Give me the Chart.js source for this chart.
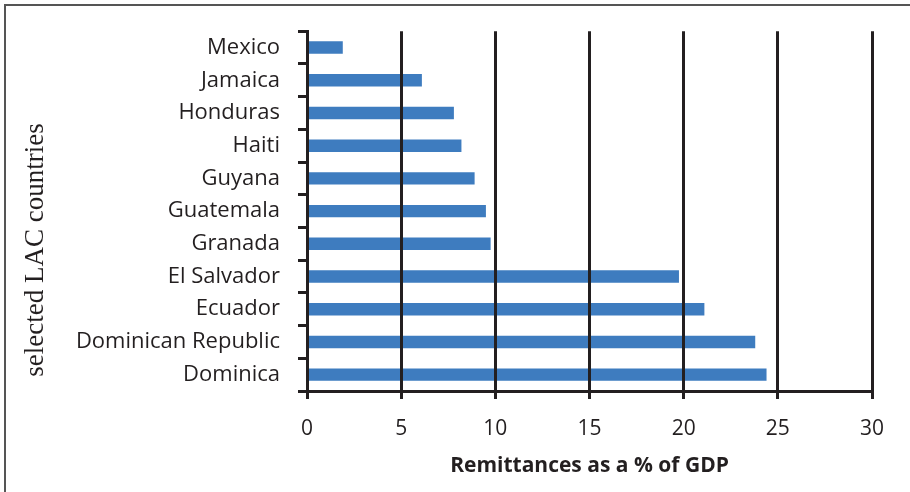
<!DOCTYPE html>
<html>
<head>
<meta charset="utf-8">
<script src="https://cdn.jsdelivr.net/npm/chart.js@4/dist/chart.umd.min.js"></script>
<style>
  body { margin: 0; background: #fff; }
  #wrap { position: relative; width: 910px; height: 492px; overflow: hidden; }
  #wrap::after {
    content: ''; position: absolute; left: 4px; top: 4px; right: -10px; bottom: -10px;
    border-left: 2px solid #555; border-top: 2px solid #555; pointer-events: none;
  }
</style>
</head>
<body>
<div id="wrap"><canvas id="myChart" width="910" height="492"></canvas></div>
<script>
// ---- DATA ----
const countries = ['Mexico', 'Jamaica', 'Honduras', 'Haiti', 'Guyana', 'Guatemala',
  'Granada', 'El Salvador', 'Ecuador', 'Dominican Republic', 'Dominica'];
const remittances = [1.9, 6.1, 7.8, 8.2, 8.9, 9.5, 9.75, 19.75, 21.1, 23.8, 24.4];
const xTicks = [0, 5, 10, 15, 20, 25, 30];

const ink = '#231f20';

// y title drawn centred on the whole picture, not the plot
const yTitle = {
  id: 'yTitle',
  afterDraw(chart) {
    const { ctx } = chart;
    ctx.save();
    ctx.translate(36, chart.height / 2 + 4);
    ctx.rotate(-Math.PI / 2);
    ctx.font = '27px "Liberation Serif"';
    ctx.fillStyle = ink;
    ctx.textAlign = 'center';
    ctx.textBaseline = 'middle';
    ctx.fillText('selected LAC countries', 0, 0);
    ctx.restore();
  }
};

const config = {
  type: 'bar',
  data: {
    labels: countries,
    datasets: [{
      data: remittances,
      backgroundColor: '#3e7cbf',
      borderWidth: 0,
      categoryPercentage: 1,
      barPercentage: 0.38
    }]
  },
  options: {
    responsive: false,
    animation: false,
    indexAxis: 'y',
    layout: { padding: { top: 29, right: 38, left: 0, bottom: 0 } },
    scales: {
      x: {
        min: 0, max: 30,
        afterBuildTicks: (s) => { s.ticks = xTicks.map(v => ({ value: v })); },
        afterFit: (s) => { s.height = 101; },
        // gridlines sit on top of the bars, as in the picture
        grid: { color: ink, lineWidth: 3, tickLength: 8, z: 1 },
        border: { color: ink, width: 3, z: 1 },
        ticks: { color: ink, font: { family: 'Open Sans', size: 21 }, padding: 17 },
        title: {
          display: true,
          text: 'Remittances as a % of GDP',
          color: ink,
          font: { family: 'Open Sans', size: 21, weight: 'bold' },
          padding: { top: 4, bottom: 13 }
        }
      },
      y: {
        afterFit: (s) => { s.width = 307; },
        grid: { drawOnChartArea: false, color: ink, lineWidth: 3, tickLength: 9 },
        border: { color: ink, width: 3 },
        ticks: { color: ink, font: { family: 'Open Sans', size: 22 }, padding: 18 }
      }
    },
    plugins: {
      legend: { display: false },
      tooltip: { enabled: false }
    }
  },
  plugins: [yTitle]
};

const myChart = new Chart(document.getElementById('myChart'), config);
</script>
</body>
</html>
